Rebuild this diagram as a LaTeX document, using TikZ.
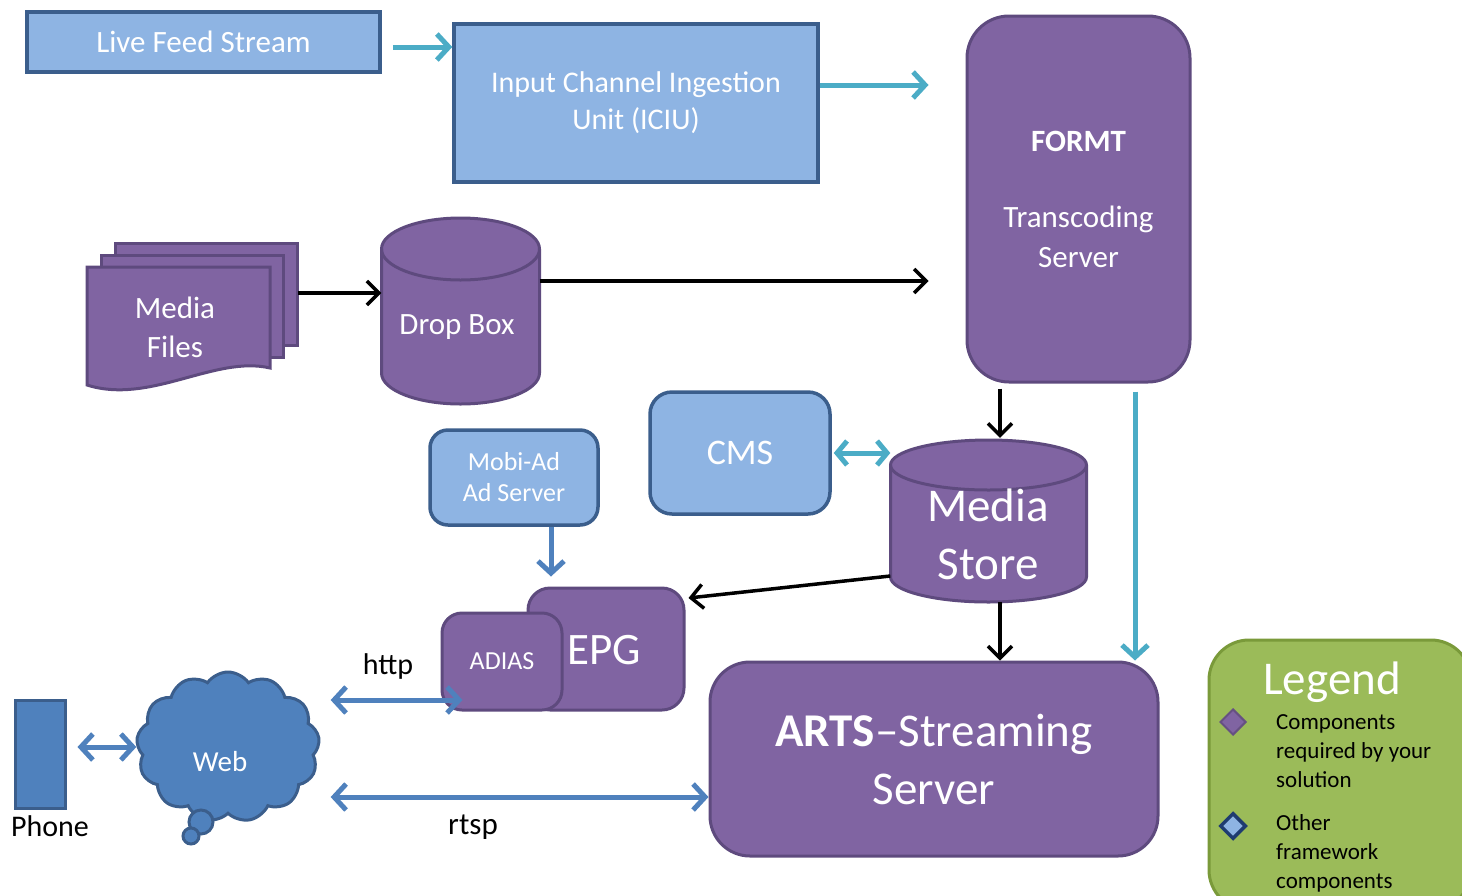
\documentclass[tikz,border=0pt]{standalone}
\usepackage{fontspec}
\setmainfont{Carlito}
\usetikzlibrary{arrows.meta,shapes.symbols,shapes.geometric,calc}
\definecolor{lblue}{HTML}{8EB4E3}
\definecolor{bborder}{HTML}{3B5E8C}
\definecolor{purp}{HTML}{8064A2}
\definecolor{pborder}{HTML}{5E4A7E}
\definecolor{tealc}{HTML}{4BACC6}
\definecolor{midblue}{HTML}{4F81BD}
\definecolor{lgreen}{HTML}{9BBB59}
\definecolor{gborder}{HTML}{7A9A3A}
\definecolor{dkblue}{HTML}{1F3C70}
\newcommand\cylshape[5]{%
  \pgfmathsetmacro\cyL{#1-#4}\pgfmathsetmacro\cyR{#1+#4}%
  \pgfmathsetmacro\cyT{#2+#5}\pgfmathsetmacro\cyB{#3-#5}%
  \pgfmathsetmacro\cykx{0.5523*#4}\pgfmathsetmacro\cyky{0.5523*#5}%
  \filldraw[fill=purp, draw=pborder, line width=3pt]
    (\cyL,\cyT) -- (\cyL,\cyB)
    .. controls (\cyL,\cyB+\cyky) and (#1-\cykx,#3) .. (#1,#3)
    .. controls (#1+\cykx,#3) and (\cyR,\cyB+\cyky) .. (\cyR,\cyB)
    -- (\cyR,\cyT)
    .. controls (\cyR,\cyT-\cyky) and (#1+\cykx,#2) .. (#1,#2)
    .. controls (#1-\cykx,#2) and (\cyL,\cyT-\cyky) .. (\cyL,\cyT) -- cycle;
  \draw[pborder, line width=3pt] (\cyL,\cyT)
    .. controls (\cyL,\cyT+\cyky) and (#1-\cykx,\cyT+#5) .. (#1,\cyT+#5)
    .. controls (#1+\cykx,\cyT+#5) and (\cyR,\cyT+\cyky) .. (\cyR,\cyT);}
\begin{document}
\begin{tikzpicture}[x=1pt,y=-1pt,
  fs/.style n args={2}{font=\fontsize{#1pt}{#2pt}\selectfont},
  bluebox/.style={draw=bborder, fill=lblue, line width=3.5pt, text=white, align=center, inner sep=0},
  purpbox/.style={draw=pborder, fill=purp, line width=3pt, text=white, align=center, inner sep=0, rounded corners=#1},
  purpbox/.default=20pt,
  purpshape/.style={fill=purp, draw=pborder, line width=3pt},
  wtext/.style={text=white, align=center, inner sep=0},
  ktext/.style={text=black, align=center, inner sep=0},
  tarrow/.style={draw=tealc, line width=5pt, -{Straight Barb[length=12pt,width=26pt]}},
  tdarrow/.style={draw=tealc, line width=5pt, {Straight Barb[length=10pt,width=24pt]}-{Straight Barb[length=10pt,width=24pt]}},
  karrow/.style={draw=black, line width=3.5pt, -{Straight Barb[length=12pt,width=24pt]}},
  barrow/.style={draw=midblue, line width=5pt, -{Straight Barb[length=12pt,width=26pt]}},
  bdarrow/.style={draw=midblue, line width=5pt, {Straight Barb[length=12pt,width=26pt]}-{Straight Barb[length=12pt,width=26pt]}}
]
\clip (0,0) rectangle (1462,895);
\fill[white] (0,0) rectangle (1462,895);

% top row
\node[bluebox, minimum width=353pt, minimum height=60pt, fs={31}{38}] (live) at (203.5,42) {Live Feed Stream};
\node[bluebox, minimum width=364pt, minimum height=158pt, fs={30}{37}] (iciu) at (636,103) {Input Channel Ingestion\\Unit (ICIU)};
\node[purpbox=42pt, minimum width=223pt, minimum height=366pt, fs={31}{40}] (formt) at (1078.5,199) {\textbf{FORMT}\\[36pt]Transcoding\\Server};

% media files
\path[purpshape] (115,243) rectangle (297,345);
\path[purpshape] (101,255) rectangle (283,357);
\path[purpshape] (87,267) -- (270,267) -- (270,368) .. controls (215,355) and (150,405) .. (87,385) -- cycle;
\node[inner sep=0, minimum width=183pt, minimum height=120pt] (mf) at (178.5,327) {};
\node[wtext, fs={31}{39}] (mftext) at (175,327) {Media\\Files};

% drop box
\cylshape{460.5}{218}{404}{79}{31}
\node[inner sep=0, minimum width=158pt, minimum height=186pt] (dropbox) at (460.5,311) {};
\node[wtext, fs={31}{38}] (dbtext) at (457,327) {Drop Box};

% CMS, Mobi-Ad
\node[bluebox, rounded corners=22pt, minimum width=180pt, minimum height=122pt, fs={36}{42}] (cms) at (740,453) {CMS};
\node[bluebox, rounded corners=18pt, minimum width=168pt, minimum height=95pt, fs={26}{31}] (mobi) at (514,477.5) {Mobi-Ad\\Ad Server};

% media store
\cylshape{988.5}{440}{602}{98}{25}
\node[inner sep=0, minimum width=196pt, minimum height=162pt] (mstore) at (988.5,521) {};
\node[wtext, fs={47}{58}] (mstext) at (988,534) {Media\\Store};

% EPG / ADIAS
\node[purpbox=22pt, minimum width=156pt, minimum height=122pt, fs={45}{50}] (epg) at (606,649) {};
\node[wtext, fs={45}{50}] (epgtext) at (604,650) {EPG};
\node[purpbox=20pt, minimum width=120pt, minimum height=97pt, fs={26}{30}] (adias) at (502,661.5) {ADIAS};

% ARTS
\node[purpbox=40pt, minimum width=448pt, minimum height=194pt, fs={47}{58}] (arts) at (934,759) {\textbf{ARTS}\textendash Streaming\\Server};

% Phone, Web
\node[draw=bborder, fill=midblue, line width=3pt, minimum width=50pt, minimum height=108pt, inner sep=0] (phone) at (40,754) {};
\node[ktext, fs={30}{36}] (phonelbl) at (50,826) {Phone};
\node[cloud, cloud puffs=13, cloud puff arc=110, aspect=1.25, draw=bborder, fill=midblue, line width=3pt, minimum width=183pt, minimum height=150pt, inner sep=0] (web) at (228,747) {};
\filldraw[fill=midblue, draw=bborder, line width=3pt] (201,822) circle (12);
\filldraw[fill=midblue, draw=bborder, line width=3pt] (191,836) circle (8);
\node[wtext, fs={29}{34}] (webtext) at (220,762) {Web};
\node[ktext, fs={30}{36}] (httplbl) at (388,666) {http};
\node[ktext, fs={31}{36}] (rtsplbl) at (473,827) {rtsp};

% legend
\node[draw=gborder, fill=lgreen, line width=3pt, rounded corners=40pt, minimum width=262pt, minimum height=270pt] (legend) at (1340,775) {};
\node[wtext, fs={47}{50}] (legtitle) at (1332,682) {Legend};
\node[diamond, fill=purp, draw=purp!80!black, line width=2pt, minimum size=26pt, inner sep=0] (dpurp) at (1233,722) {};
\node[diamond, fill=lblue, draw=dkblue, line width=3.5pt, minimum size=26pt, inner sep=0] (dblue) at (1233,826) {};
\node[anchor=west, align=left, inner sep=0, fs={23}{29}] (ltext1) at (1276,751) {Components\\required by your\\solution};
\node[anchor=west, align=left, inner sep=0, fs={23}{29}] (ltext2) at (1276,853) {Other\\framework\\components};

% connectors
\draw[tarrow, shorten <=11pt] (live.east |- 0,47) -- (iciu.west |- 0,47);
\draw[tarrow, shorten >=37pt] (iciu.east |- 0,85) -- (formt.west |- 0,85);
\draw[karrow, shorten <=28pt] (mf.east |- 0,293) -- (dropbox.west |- 0,293);
\draw[karrow, shorten >=37pt] (dropbox.east |- 0,281) -- (formt.west |- 0,281);
\draw[karrow, shorten <=5pt, shorten >=2pt] (formt.south -| 1000,0) -- (mstore.north -| 1000,0);
\draw[tarrow, shorten <=8pt] (formt.south -| 1135,0) -- (arts.north -| 1135,0);
\draw[tdarrow, shorten <=2pt] (cms.east |- 0,453) -- (mstore.west |- 0,453);
\draw[barrow, shorten >=10pt] (mobi.south -| 551,0) -- (epg.north -| 551,0);
\draw[karrow] (mstore.west |- 0,576) -- ([xshift=3pt]epg.east |- 0,598);
\draw[karrow] (mstore.south -| 1000,0) -- (arts.north -| 1000,0);
\draw[bdarrow, shorten <=11pt] (phone.east |- 0,747) -- (web.west |- 0,747);
\draw[bdarrow, shorten <=11pt, shorten >=-22pt] (web.east |- 0,700) -- (adias.west |- 0,700);
\draw[bdarrow, shorten <=11pt] (web.east |- 0,797) -- (arts.west |- 0,797);
\end{tikzpicture}
\end{document}
